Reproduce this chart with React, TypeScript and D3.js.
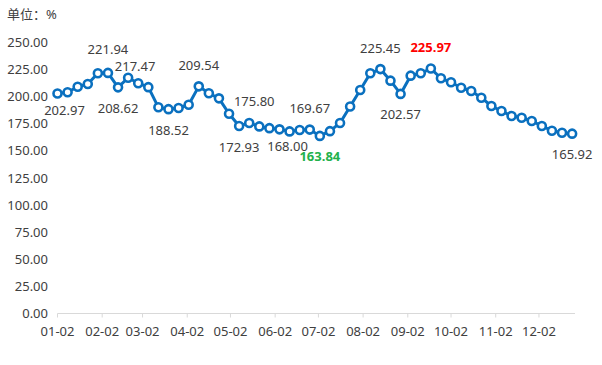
import React from "react";
import * as d3 from "d3";

// weekly series, first point 01-02
const startDate = new Date(2023, 0, 2);
const values = [
	202.97, 204.1, 209.2, 211.7, 221.6, 221.94, 208.62, 217.47, 212.4, 208.8,
	190.2, 188.52, 189.6, 192.6, 209.54, 203.2, 198.5, 184.3, 172.93, 175.8,
	172.6, 171.0, 169.9, 168.0, 169.3, 169.67, 163.84, 168.2, 175.8, 191.0,
	206.2, 221.6, 225.45, 214.8, 202.57, 219.4, 221.6, 225.97, 217.0, 213.3,
	208.3, 205.3, 199.1, 191.4, 186.8, 182.2, 180.6, 177.6, 173.0, 168.6,
	166.8, 165.92,
];
const dates = values.map((_, i) => d3.timeDay.offset(startDate, i * 7));
const monthTicks = d3.range(12).map((m) => new Date(2023, m, 2));
const yTicks = d3.range(0, 251, 25);

// which points carry a value label, and on which side
const labelIdx = [0, 5, 6, 7, 11, 14, 18, 19, 23, 25, 26, 32, 34, 37, 51];
const labelSide = ["below", "above", "below", "above", "below", "above", "below", "above", "below", "above", "below", "above", "below", "above", "below"];

const W = 602;
const H = 365;
const FONT = "'Noto Sans', 'Noto Sans CJK SC', sans-serif";
const TEXT = "#404040";
const BLUE = "#0a70bf";

// small nudges so labels don't collide
const nudge: Record<number, [number, number]> = {
	0: [7, -4],
	5: [0, -2],
	7: [7, 10],
	19: [5, 0],
	23: [-2, -6],
};

export default function App() {
	const x = d3
		.scaleTime()
		.domain([startDate, new Date(2023, 11, 27)])
		.range([57.5, 575]);
	const y = d3.scaleLinear().domain([0, 250]).range([313.5, 42.5]);

	const line = d3
		.line<number>()
		.x((_, i) => x(dates[i]))
		.y((d) => y(d));

	const maxV = d3.max(values)!;
	const minV = d3.min(values)!;
	const fmt = d3.format(".2f");
	const dfmt = d3.timeFormat("%m-%d");

	return (
		<svg
			width={W}
			height={H}
			style={{position: "absolute", left: 0, top: 0, background: "#fff"}}
			fontFamily={FONT}
		>
			<text x={7} y={14} dy="0.35em" fontSize={13} fill={TEXT}>
				单位：%
			</text>

			{/* y axis labels */}
			{yTicks.map((t) => (
				<text
					key={t}
					x={48}
					y={y(t)}
					dy="0.35em"
					textAnchor="end"
					fontSize={13}
					fill={TEXT}
				>
					{fmt(t)}
				</text>
			))}

			{/* x axis */}
			<line x1={x.range()[0]} x2={x.range()[1]} y1={y(0)} y2={y(0)} stroke="#d9d9d9" />
			{monthTicks.map((t, i) => (
				<g key={i} transform={`translate(${x(t)},0)`}>
					<line y1={y(0)} y2={y(0) + 4} stroke="#d9d9d9" />
					<text y={y(0) + 18} dy="0.35em" textAnchor="middle" fontSize={13} fill={TEXT}>
						{dfmt(t)}
					</text>
				</g>
			))}

			<path d={line(values)!} fill="none" stroke={BLUE} strokeWidth={3} strokeLinejoin="round" />
			{values.map((v, i) => (
				<circle key={i} cx={x(dates[i])} cy={y(v)} r={4} fill="#fff" stroke={BLUE} strokeWidth={2.6} />
			))}

			{labelIdx.map((idx, k) => {
				const v = values[idx];
				const [dx, dy] = nudge[idx] || [0, 0];
				const isMax = v === maxV;
				const isMin = v === minV;
				const off = labelSide[k] === "above" ? -21 : 21;
				return (
					<text
						key={idx}
						x={x(dates[idx]) + dx}
						y={y(v) + off + dy}
						dy="0.35em"
						textAnchor="middle"
						fontSize={13}
						fontWeight={isMax || isMin ? "bold" : "normal"}
						fill={isMax ? "#ff0000" : isMin ? "#22b14c" : TEXT}
					>
						{fmt(v)}
					</text>
				);
			})}
		</svg>
	);
}
